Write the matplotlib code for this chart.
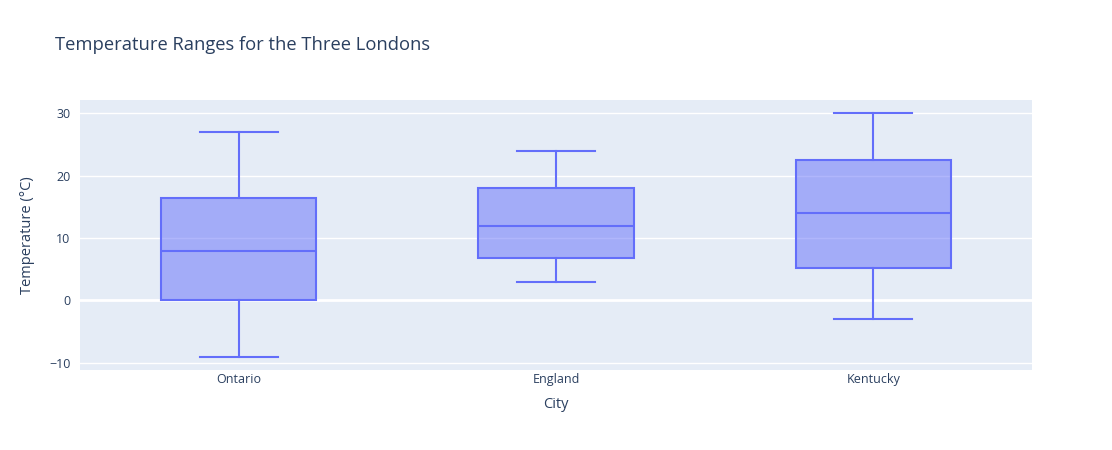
import matplotlib.pyplot as plt

plt.rcParams['font.family'] = ['Open Sans', 'DejaVu Sans']

cities = ['Ontario', 'England', 'Kentucky']
lows = [-9, 3, -3]
q1s = [0, 6.75, 5.25]
medians = [8, 12, 14]
q3s = [16.5, 18, 22.5]
highs = [27, 24, 30]

line_color = '#636efa'
text_color = '#2a3f5f'

stats = []
for name, lo, a, m, b, hi in zip(cities, lows, q1s, medians, q3s, highs):
    stats.append({'label': name, 'whislo': lo, 'q1': a, 'med': m, 'q3': b, 'whishi': hi, 'fliers': []})

fig = plt.figure(figsize=(11.12, 4.5), dpi=100)
ax = fig.add_axes([80 / 1112, 80 / 450, 952 / 1112, 270 / 450])
ax.set_facecolor('#e5ecf6')

positions = list(range(len(cities)))
lw = 1.5
ax.bxp(stats, positions=positions, widths=0.49, patch_artist=True, showfliers=False,
       boxprops=dict(facecolor=(0.388, 0.431, 0.98, 0.5), edgecolor=line_color, linewidth=lw),
       medianprops=dict(color=line_color, linewidth=lw),
       whiskerprops=dict(color=line_color, linewidth=lw),
       capprops=dict(color=line_color, linewidth=lw),
       capwidths=0.245)

ax.set_xlim(-0.5, 2.5)
ax.set_ylim(-11.15, 32.15)
ax.set_yticks([-10, 0, 10, 20, 30])
ax.set_yticklabels(['\u221210', '0', '10', '20', '30'])
ax.grid(axis='y', color='white', linewidth=1)
ax.set_axisbelow(True)
ax.axhline(0, color='white', linewidth=2, zorder=0.5)
for s in ax.spines.values():
    s.set_visible(False)
ax.tick_params(axis='y', length=0, labelsize=9, colors=text_color, pad=7)
ax.tick_params(axis='x', length=0, labelsize=9, colors=text_color, pad=2)

ax.set_xlabel('City', fontsize=10.5, color=text_color, labelpad=8)
ax.set_ylabel('Temperature (°C)', fontsize=10.5, color=text_color, labelpad=10)
fig.text(55 / 1112, 1 - 45 / 450, 'Temperature Ranges for the Three Londons',
         fontsize=13.2, color=text_color, va='center', ha='left')

fig.savefig('out.png', dpi=100)
